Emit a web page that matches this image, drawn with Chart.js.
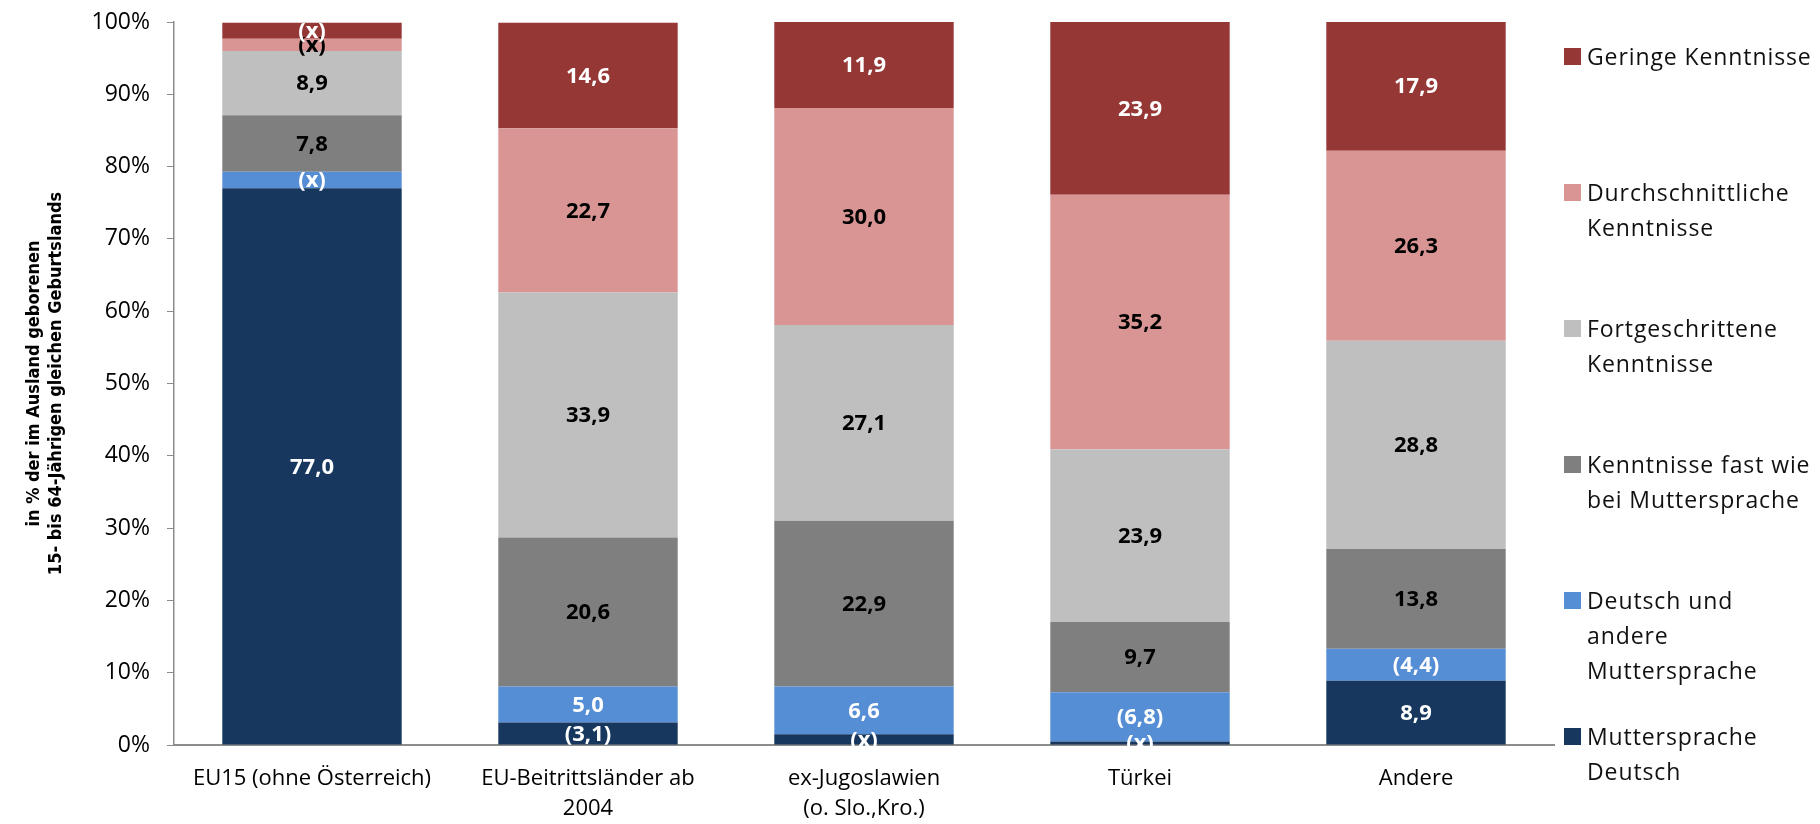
<!DOCTYPE html>
<html lang="de">
<head>
<meta charset="utf-8">
<script src="https://cdn.jsdelivr.net/npm/chart.js@4.4.1/dist/chart.umd.min.js"></script>
<style>
  body { margin: 0; background: #fff; }
  #wrap { position: relative; width: 1820px; height: 824px; }
  #legend { position: absolute; left: 0; top: 0; }
  .item { position: absolute; left: 1564px; font-family: 'Open Sans', sans-serif; font-size: 23px; line-height: 35px; color: #111; letter-spacing: 0.9px; white-space: nowrap; }
  .item .box { position: absolute; left: 0; top: 9px; width: 17px; height: 17px; }
  .item .txt { position: absolute; left: 23px; top: 0; }
</style>
</head>
<body>
<div id="wrap">
  <canvas id="chart" width="1820" height="824"></canvas>
  <div id="legend"></div>
</div>
<script>
// categories (x axis)
const categories = [
    'EU15 (ohne Österreich)',
    ['EU-Beitrittsländer ab', '2004'],
    ['ex-Jugoslawien', '(o. Slo.,Kro.)'],
    'Türkei',
    'Andere'
];

// series values, bottom to top of the stack
const muttersprache = [77.0, 3.1, 1.5, 0.5, 8.9];
const deutschUndAndere = [2.3, 5.0, 6.6, 6.8, 4.4];
const fastWieMutter = [7.8, 20.6, 22.9, 9.7, 13.8];
const fortgeschritten = [8.9, 33.9, 27.1, 23.9, 28.8];
const durchschnitt = [1.7, 22.7, 30.0, 35.2, 26.3];
const gering = [2.2, 14.6, 11.9, 23.9, 17.9];

// printed labels (small values shown as (x) or in brackets)
const mutterspracheLabels = ['77,0', '(3,1)', '(x)', '(x)', '8,9'];
const deutschUndAndereLabels = ['(x)', '5,0', '6,6', '(6,8)', '(4,4)'];
const fastWieMutterLabels = ['7,8', '20,6', '22,9', '9,7', '13,8'];
const fortgeschrittenLabels = ['8,9', '33,9', '27,1', '23,9', '28,8'];
const durchschnittLabels = ['(x)', '22,7', '30,0', '35,2', '26,3'];
const geringLabels = ['(x)', '14,6', '11,9', '23,9', '17,9'];

const yTicks = [0, 10, 20, 30, 40, 50, 60, 70, 80, 90, 100];

const series = [
    { name: ['Muttersprache', 'Deutsch'], data: muttersprache, labels: mutterspracheLabels, color: '#17375E', text: '#ffffff' },
    { name: ['Deutsch und', 'andere', 'Muttersprache'], data: deutschUndAndere, labels: deutschUndAndereLabels, color: '#558ED5', text: '#ffffff' },
    { name: ['Kenntnisse fast wie', 'bei Muttersprache'], data: fastWieMutter, labels: fastWieMutterLabels, color: '#7F7F7F', text: '#000000' },
    { name: ['Fortgeschrittene', 'Kenntnisse'], data: fortgeschritten, labels: fortgeschrittenLabels, color: '#BFBFBF', text: '#000000' },
    { name: ['Durchschnittliche', 'Kenntnisse'], data: durchschnitt, labels: durchschnittLabels, color: '#D99594', text: '#000000' },
    { name: ['Geringe Kenntnisse'], data: gering, labels: geringLabels, color: '#953735', text: '#ffffff' }
];

// Draw value labels in the middle of each segment
const segmentLabels = {
    id: 'segmentLabels',
    afterDatasetsDraw(chart) {
        const ctx = chart.ctx;
        ctx.save();
        ctx.font = 'bold 22px "Open Sans", sans-serif';
        ctx.textAlign = 'center';
        ctx.textBaseline = 'middle';
        chart.data.datasets.forEach(function(ds, i) {
            const meta = chart.getDatasetMeta(i);
            meta.data.forEach(function(bar, j) {
                const mid = (bar.y + bar.base) / 2;
                ctx.fillStyle = ds.labelColor;
                ctx.fillText(ds.valueLabels[j], bar.x, mid + 1);
            });
        });
        ctx.restore();
    }
};

const ctx = document.getElementById('chart').getContext('2d');
const chart = new Chart(ctx, {
    type: 'bar',
    data: {
        labels: categories,
        datasets: series.map(function(s) {
            return {
                label: s.name.join(' '),
                data: s.data,
                valueLabels: s.labels,
                labelColor: s.text,
                backgroundColor: s.color,
                borderWidth: 0,
                categoryPercentage: 1.0,
                barPercentage: 0.65
            };
        })
    },
    options: {
        responsive: false,
        animation: false,
        layout: { padding: { left: 0, right: 266, top: 22, bottom: 0 } },
        plugins: {
            legend: { display: false },
            tooltip: { enabled: false }
        },
        scales: {
            x: {
                stacked: true,
                grid: { display: false },
                border: { display: true, color: '#8c8c8c', width: 2 },
                ticks: {
                    color: '#000',
                    padding: 10,
                    font: { family: '"Open Sans", sans-serif', size: 22, lineHeight: 1.4 },
                    maxRotation: 0
                },
                afterFit: function(scale) {
                    scale.height = 79;
                    scale.paddingLeft = 0;
                    scale.paddingRight = 0;
                }
            },
            y: {
                stacked: true,
                min: 0,
                max: 100,
                afterBuildTicks: function(scale) {
                    scale.ticks = yTicks.map(function(v) { return { value: v }; });
                },
                grid: { drawOnChartArea: false, drawTicks: true, tickLength: 7, color: '#8c8c8c' },
                border: { display: true, color: '#8c8c8c', width: 1.5 },
                ticks: {
                    color: '#000',
                    padding: 17,
                    font: { family: '"Open Sans", sans-serif', size: 23 },
                    callback: function(v) { return v + '%'; }
                },
                title: {
                    display: true,
                    text: ['in % der im Ausland geborenen', '15- bis 64-Jährigen gleichen Geburtslands'],
                    color: '#000',
                    padding: { top: 24, bottom: 0 },
                    font: { family: '"Liberation Sans Narrow", "DejaVu Sans Condensed", sans-serif', size: 18, weight: 'bold', lineHeight: 1.2 }
                },
                afterFit: function(scale) {
                    scale.width = 174;
                    scale.paddingTop = 0;
                    scale.paddingBottom = 0;
                }
            }
        }
    },
    plugins: [segmentLabels]
});

// legend on the right, top item = top of the stack
const legend = document.getElementById('legend');
series.slice().reverse().forEach(function(s, i) {
    const item = document.createElement('div');
    item.className = 'item';
    item.style.top = (56 + i * 136 - 17) + 'px';
    item.innerHTML = '<span class="box" style="background:' + s.color + '"></span>' +
        '<span class="txt">' + s.name.join('<br>') + '</span>';
    legend.appendChild(item);
});
</script>
</body>
</html>
